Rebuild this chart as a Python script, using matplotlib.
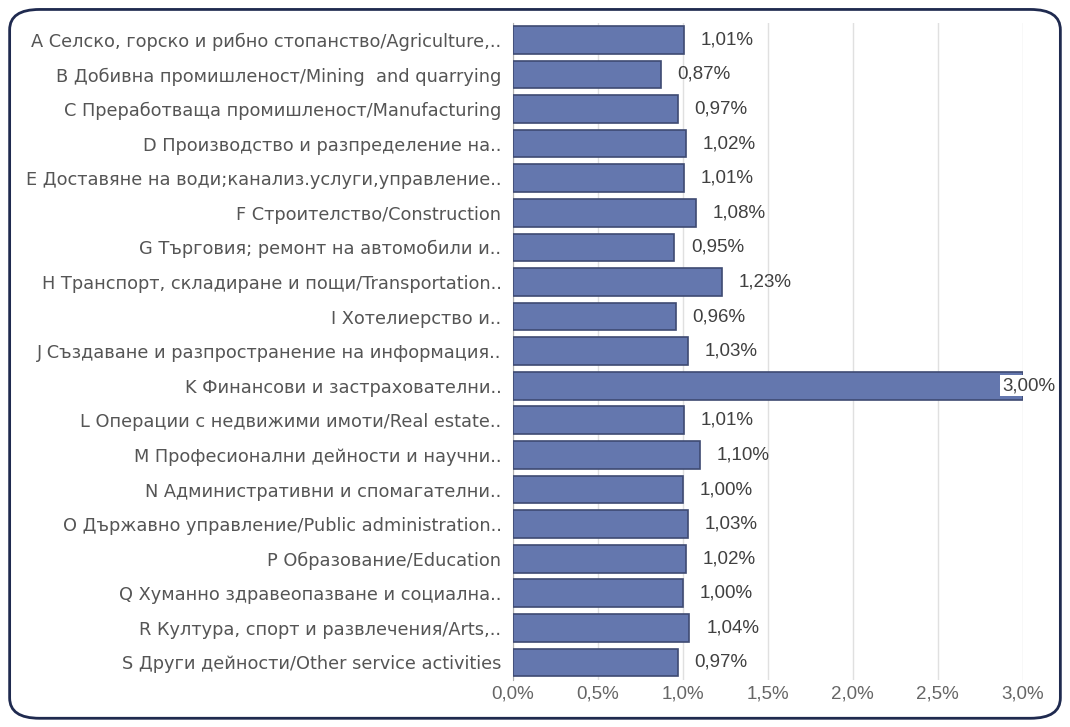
import matplotlib.pyplot as plt
from matplotlib.patches import FancyBboxPatch

# sectors (top to bottom) and their shares in %
categories = [
    "A Селско, горско и рибно стопанство/Agriculture,..",
    "B Добивна промишленост/Mining  and quarrying",
    "C Преработваща промишленост/Manufacturing",
    "D Производство и разпределение на..",
    "E Доставяне на води;канализ.услуги,управление..",
    "F Строителство/Construction",
    "G Търговия; ремонт на автомобили и..",
    "H Транспорт, складиране и пощи/Transportation..",
    "I Хотелиерство и..",
    "J Създаване и разпространение на информация..",
    "K Финансови и застрахователни..",
    "L Операции с недвижими имоти/Real estate..",
    "M Професионални дейности и научни..",
    "N Административни и спомагателни..",
    "O Държавно управление/Public administration..",
    "P Образование/Education",
    "Q Хуманно здравеопазване и социална..",
    "R Култура, спорт и развлечения/Arts,..",
    "S Други дейности/Other service activities",
]
values = [1.01, 0.87, 0.97, 1.02, 1.01, 1.08, 0.95, 1.23, 0.96, 1.03,
          3.00, 1.01, 1.10, 1.00, 1.03, 1.02, 1.00, 1.04, 0.97]
xticks = [0.0, 0.5, 1.0, 1.5, 2.0, 2.5, 3.0]

plt.rcParams['font.family'] = ['Liberation Sans', 'DejaVu Sans']
lib = ['Liberation Sans', 'DejaVu Sans']

fig = plt.figure(figsize=(10.7, 7.27), dpi=100)
ax = fig.add_axes([0.479, 0.065, 0.477, 0.904])

# rounded frame around the chart
frame = FancyBboxPatch((0.009, 0.012), 0.982, 0.975,
                       boxstyle="round,pad=0,rounding_size=0.028",
                       transform=fig.transFigure, facecolor='none',
                       edgecolor='#1f2a4f', linewidth=2, zorder=0)
fig.patches.append(frame)

y = list(range(len(categories)))
ax.barh(y, values, height=0.8, color='#6477ae', edgecolor='#3e4a72',
        linewidth=1.2, zorder=3)

ax.set_xlim(0, 3.0)
ax.set_ylim(len(categories) - 0.5, -0.5)
ax.set_yticks(y)
ax.set_yticklabels(categories, fontsize=12.8, color='#555555',
                   family=['DejaVu Sans'])
ax.set_xticks(xticks)
ax.set_xticklabels([f"{t:.1f}%".replace('.', ',') for t in xticks],
                   fontsize=13.5, color='#666666', family=lib)
ax.tick_params(axis='both', length=0)
ax.tick_params(axis='y', pad=8)
ax.tick_params(axis='x', pad=4)

ax.grid(axis='x', color='#e0e0e0', linewidth=1, zorder=0)
for s in ['top', 'right', 'bottom']:
    ax.spines[s].set_visible(False)
ax.spines['left'].set_color('#b0b0b0')

for yi, v in zip(y, values):
    txt = f"{v:.2f}%".replace('.', ',')
    if v >= 2.9:
        ax.annotate(txt, (v, yi), xytext=(4, 0), textcoords='offset points',
                    ha='center', va='center', fontsize=13.5, color='#404040',
                    family=lib,
                    bbox=dict(facecolor='white', edgecolor='none', pad=1.5),
                    zorder=5, annotation_clip=False)
    else:
        ax.annotate(txt, (v, yi), xytext=(12, 0), textcoords='offset points',
                    ha='left', va='center', fontsize=13.5, color='#404040',
                    family=lib, zorder=5)

fig.savefig('out.png', dpi=100)
